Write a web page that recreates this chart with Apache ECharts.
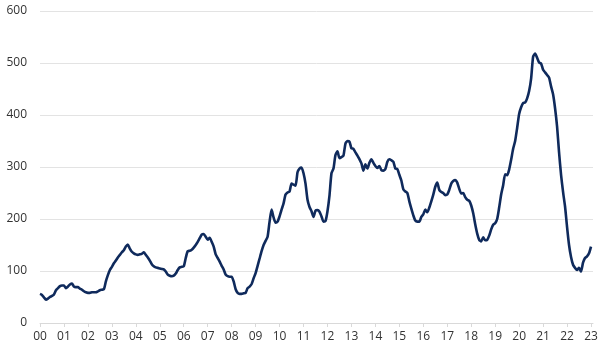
<!DOCTYPE html>
<html>
<head>
<meta charset="utf-8">
<script src="https://cdn.jsdelivr.net/npm/echarts@6/dist/echarts.min.js"></script>
<style>
  html, body { margin: 0; padding: 0; background: #ffffff; }
  #chart { width: 605px; height: 350px; }
</style>
</head>
<body>
<div id="chart"></div>
<script>
// Monthly series, January 2000 onwards
const startYear = 2000;

const values = [
  // 2000
  56, 54, 49, 45, 47, 50, 52, 55, 63, 67, 71, 72,
  // 2001
  72, 67, 70, 74, 76, 70, 69, 69, 66, 64, 61, 59,
  // 2002
  58, 58, 59, 59, 59, 61, 63, 64, 65, 80, 92, 102,
  // 2003
  108, 115, 120, 126, 131, 136, 140, 147, 151, 143, 137, 134,
  // 2004
  132, 131, 132, 133, 136, 131, 126, 120, 113, 109, 107, 106,
  // 2005
  105, 104, 103, 99, 93, 91, 90, 91, 95, 102, 107, 108,
  // 2006
  109, 125, 138, 139, 141, 145, 150, 156, 163, 170, 171, 166,
  // 2007
  160, 164, 156, 147, 132, 125, 118, 110, 103, 93, 90, 89,
  // 2008
  89, 80, 65, 58, 56, 56, 57, 58, 67, 70, 75, 86,
  // 2009
  96, 110, 124, 138, 150, 158, 166, 195, 218, 203, 193, 195,
  // 2010
  205, 218, 230, 247, 251, 253, 268, 266, 264, 290, 297, 299,
  // 2011
  288, 268, 237, 223, 215, 204, 216, 217, 214, 205, 195, 196,
  // 2012
  215, 245, 288, 297, 323, 330, 317, 319, 322, 345, 350, 349,
  // 2013
  336, 335, 328, 322, 315, 307, 293, 305, 297, 308, 315, 308,
  // 2014
  302, 298, 302, 294, 293, 296, 310, 315, 313, 310, 297, 296,
  // 2015
  285, 274, 257, 253, 250, 234, 220, 207, 197, 195, 195, 204,
  // 2016
  209, 218, 213, 222, 234, 247, 262, 270, 256, 252, 250, 246,
  // 2017
  247, 256, 268, 273, 275, 270, 258, 249, 250, 242, 237, 235,
  // 2018
  226, 211, 190, 172, 160, 157, 165, 159, 160, 168, 180, 189,
  // 2019
  192, 200, 222, 247, 265, 286, 284, 295, 314, 335, 350, 375,
  // 2020
  402, 415, 423, 424, 432, 446, 470, 512, 518, 510, 501, 499,
  // 2021
  487, 482, 477, 472, 455, 440, 413, 378, 328, 285, 252, 224,
  // 2022
  185, 150, 127, 112, 106, 102, 106, 99, 116, 125, 128, 134,
  // 2023
  147
];

const yearLabels = ['00', '01', '02', '03', '04', '05', '06', '07', '08', '09', '10', '11',
                    '12', '13', '14', '15', '16', '17', '18', '19', '20', '21', '22', '23'];

// one month of axis room past the last observation
const months = [];
for (let i = 0; i < values.length + 1; i++) {
  const y = startYear + Math.floor(i / 12);
  const m = (i % 12) + 1;
  months.push(y + '-' + String(m).padStart(2, '0'));
}

const chart = echarts.init(document.getElementById('chart'), null, { renderer: 'canvas' });

const isJanuary = (index) => index % 12 === 0;

chart.setOption({
  animation: false,
  backgroundColor: '#ffffff',
  grid: { left: 40, right: 12, top: 11, bottom: 27, containLabel: false },
  xAxis: {
    type: 'category',
    data: months,
    boundaryGap: false,
    axisLine: { show: true, lineStyle: { color: '#d9d9d9', width: 1 } },
    axisTick: { show: true, interval: isJanuary, length: 4, lineStyle: { color: '#d9d9d9' } },
    axisLabel: {
      interval: isJanuary,
      formatter: (val, index) => yearLabels[Math.floor(index / 12)],
      color: '#333333',
      fontFamily: 'Open Sans',
      fontSize: 12,
      margin: 8
    },
    splitLine: { show: false }
  },
  yAxis: {
    type: 'value',
    min: 0,
    max: 600,
    interval: 100,
    axisLine: { show: false },
    axisTick: { show: false },
    axisLabel: {
      color: '#333333',
      fontFamily: 'Open Sans',
      fontSize: 12,
      margin: 13
    },
    splitLine: { show: true, lineStyle: { color: '#e3e3e3', width: 1 } }
  },
  series: [{
    type: 'line',
    data: values,
    showSymbol: false,
    smooth: 0.2,
    lineStyle: { color: '#0f2a5c', width: 2.6 },
    connectNulls: false
  }]
});
</script>
</body>
</html>
